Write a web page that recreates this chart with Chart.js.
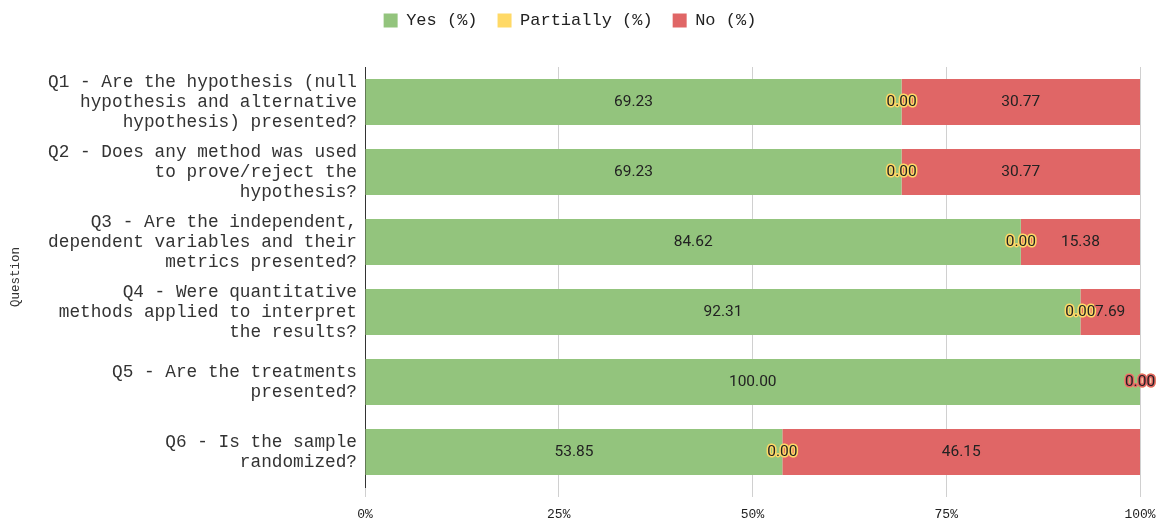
<!DOCTYPE html>
<html>
<head>
<meta charset="utf-8">
<script src="https://cdn.jsdelivr.net/npm/chart.js@4"></script>
<style>
  html, body { margin: 0; padding: 0; background: #fff; }
  #wrap { width: 1162px; height: 522px; }
</style>
</head>
<body>
<div id="wrap"><canvas id="myChart"></canvas></div>
<script>
// categories (multi-line labels)
var questions = [
  ['Q1 - Are the hypothesis (null', 'hypothesis and alternative', 'hypothesis) presented?'],
  ['Q2 - Does any method was used', 'to prove/reject the', 'hypothesis?'],
  ['Q3 - Are the independent,', 'dependent variables and their', 'metrics presented?'],
  ['Q4 - Were quantitative', 'methods applied to interpret', 'the results?'],
  ['Q5 - Are the treatments', 'presented?'],
  ['Q6 - Is the sample', 'randomized?']
];

// series values (%)
var yesValues = [69.23, 69.23, 84.62, 92.31, 100.00, 53.85];
var partiallyValues = [0, 0, 0, 0, 0, 0];
var noValues = [30.77, 30.77, 15.38, 7.69, 0, 46.15];

var xTicks = [0, 25, 50, 75, 100];

var monoFont = "'Courier New', 'Liberation Mono', monospace";

// small replacement for datalabels: value text with an outline in the bar colour
var valueLabels = {
  id: 'valueLabels',
  afterDatasetsDraw: function(chart) {
    var ctx = chart.ctx;
    ctx.save();
    ctx.font = '15.5px Roboto, sans-serif';
    ctx.textAlign = 'center';
    ctx.textBaseline = 'middle';
    ctx.lineJoin = 'round';
    chart.data.datasets.forEach(function(ds, i) {
      var meta = chart.getDatasetMeta(i);
      meta.data.forEach(function(bar, j) {
        var txt = ds.data[j].toFixed(2);
        var p = bar.getCenterPoint();
        ctx.lineWidth = 3;
        ctx.strokeStyle = ds.backgroundColor;
        ctx.strokeText(txt, p.x, p.y);
        ctx.fillStyle = '#222222';
        ctx.fillText(txt, p.x, p.y);
      });
    });
    ctx.restore();
  }
};

// extra room under the legend
var legendGap = {
  id: 'legendGap',
  beforeInit: function(chart) {
    var fit = chart.legend.fit;
    chart.legend.fit = function() {
      fit.bind(chart.legend)();
      this.height += 28;
    };
  }
};

function makeDataset(name, data, color) {
  return {
    label: name,
    data: data,
    backgroundColor: color,
    borderWidth: 0,
    categoryPercentage: 1,
    barPercentage: 0.657
  };
}

var ctx = document.getElementById('myChart').getContext('2d');

var config = {
  type: 'bar',
  data: {
    labels: questions,
    datasets: [
      makeDataset('Yes (%)', yesValues, '#93c47d'),
      makeDataset('Partially (%)', partiallyValues, '#ffd966'),
      makeDataset('No (%)', noValues, '#e06666')
    ]
  },
  options: {
    indexAxis: 'y',
    responsive: true,
    maintainAspectRatio: false,
    animation: false,
    layout: { padding: { left: 0, right: 22, top: -8, bottom: 0 } },
    plugins: {
      legend: {
        position: 'top',
        labels: {
          boxWidth: 14,
          boxHeight: 14,
          padding: 20,
          color: '#222',
          font: { family: monoFont, size: 17 }
        }
      },
      tooltip: { enabled: false }
    },
    scales: {
      x: {
        stacked: true,
        min: 0,
        max: 100,
        afterBuildTicks: function(axis) {
          axis.ticks = xTicks.map(function(v) { return { value: v }; });
        },
        afterFit: function(axis) {
          axis.height = 35;
          axis.paddingLeft = 0;
          axis.paddingRight = 0;
        },
        ticks: {
          callback: function(v) { return v + '%'; },
          color: '#222',
          font: { family: monoFont, size: 13 },
          padding: 9.5
        },
        grid: { color: '#d0d0d0', tickLength: 10 },
        border: { display: false }
      },
      y: {
        stacked: true,
        afterFit: function(axis) {
          axis.width = 365;
          axis.paddingTop = 0;
          axis.paddingBottom = 0;
        },
        title: {
          display: true,
          text: 'Question',
          color: '#333',
          font: { family: monoFont, size: 12.5 },
          padding: { top: 8, bottom: 18 }
        },
        ticks: {
          color: '#333',
          font: { family: monoFont, size: 17.75, lineHeight: 1.13 },
          padding: 8
        },
        grid: { display: false, drawTicks: false },
        border: { display: true, color: '#333', width: 1 }
      }
    }
  },
  plugins: [valueLabels, legendGap]
};

var myChart = new Chart(ctx, config);
</script>
</body>
</html>
